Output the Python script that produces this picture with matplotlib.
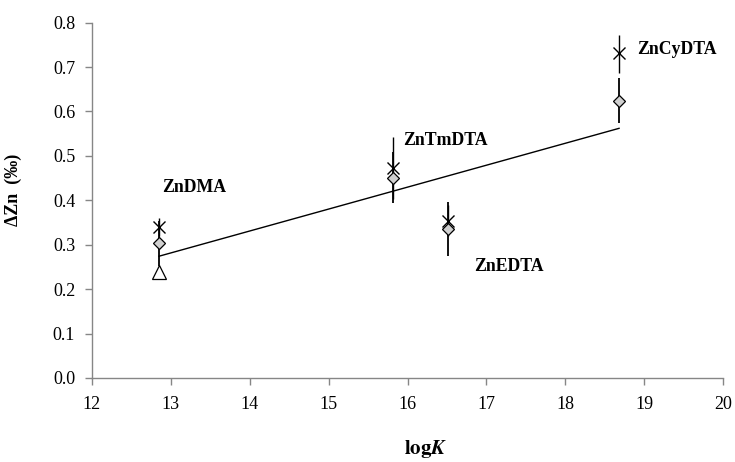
import numpy as np
import matplotlib
matplotlib.use("Agg")
import matplotlib.pyplot as plt

plt.rcParams['font.family'] = ['Liberation Serif', 'DejaVu Serif']
plt.rcParams['mathtext.fontset'] = 'stix'

# complexes and log K
names = ['ZnDMA', 'ZnTmDTA', 'ZnEDTA', 'ZnCyDTA']
logk = [12.85, 15.81, 16.51, 18.68]

# cross series (with asymmetric error bars)
cross_y = [0.340, 0.472, 0.354, 0.732]
cross_lo = [0.02, 0.07, 0.035, 0.045]
cross_hi = [0.02, 0.07, 0.035, 0.040]

# diamond series
diam_y = [0.303, 0.451, 0.335, 0.624]
diam_err = [0.05, 0.057, 0.06, 0.051]

# triangle (ZnDMA only)
tri_x = [12.85]
tri_y = [0.239]

# regression line
fit_x = [12.85, 18.68]
fit_y = [0.274, 0.562]

# label positions (left edge, centre)
lab_x = [12.89, 15.95, 16.84, 18.91]
lab_y = [0.428, 0.534, 0.25, 0.74]

fig = plt.figure(figsize=(7.35, 4.62), dpi=100)
ax = fig.add_axes([0.125, 0.182, 0.859, 0.769])

ax.errorbar(logk, diam_y, yerr=diam_err, fmt='none', ecolor='black', elinewidth=1.3, capsize=0)
ax.errorbar(logk, cross_y, yerr=[cross_lo, cross_hi], fmt='none', ecolor='black', elinewidth=1.0, capsize=0)
ax.plot(fit_x, fit_y, color='black', lw=1.0)
ax.plot(logk, cross_y, 'x', color='black', ms=9, mew=1.0, ls='none')
ax.plot(logk, diam_y, 'D', mfc='#d0d0d0', mec='black', ms=6.5, mew=0.9, ls='none')
ax.plot(tri_x, tri_y, '^', mfc='white', mec='black', ms=10, mew=0.9, ls='none')

for n, x, y in zip(names, lab_x, lab_y):
    ax.text(x, y, n, fontsize=12.8, fontweight='bold', ha='left', va='center')

ax.set_xlim(12, 20)
ax.set_ylim(0, 0.8)
ax.set_xticks(np.arange(12, 21, 1))
ax.set_yticks(np.arange(0, 0.81, 0.1))
ax.yaxis.set_major_formatter(matplotlib.ticker.FormatStrFormatter('%.1f'))

for s in ['top', 'right']:
    ax.spines[s].set_visible(False)
for s in ['left', 'bottom']:
    ax.spines[s].set_color('#868686')
    ax.spines[s].set_linewidth(1.0)
ax.tick_params(axis='both', colors='#868686', labelcolor='black', length=5, width=1.0, labelsize=13)
ax.tick_params(axis='x', pad=8)
ax.tick_params(axis='y', pad=7)

ax.set_xlabel(r'$\mathbf{log}\mathbfit{K}$', fontsize=15)
ax.xaxis.set_label_coords(0.528, -0.168)
ax.set_ylabel('ΔZn  (‰)', fontsize=13, fontweight='bold')
ax.yaxis.set_label_coords(-0.11, 0.53)

fig.savefig('out.png', dpi=100)
